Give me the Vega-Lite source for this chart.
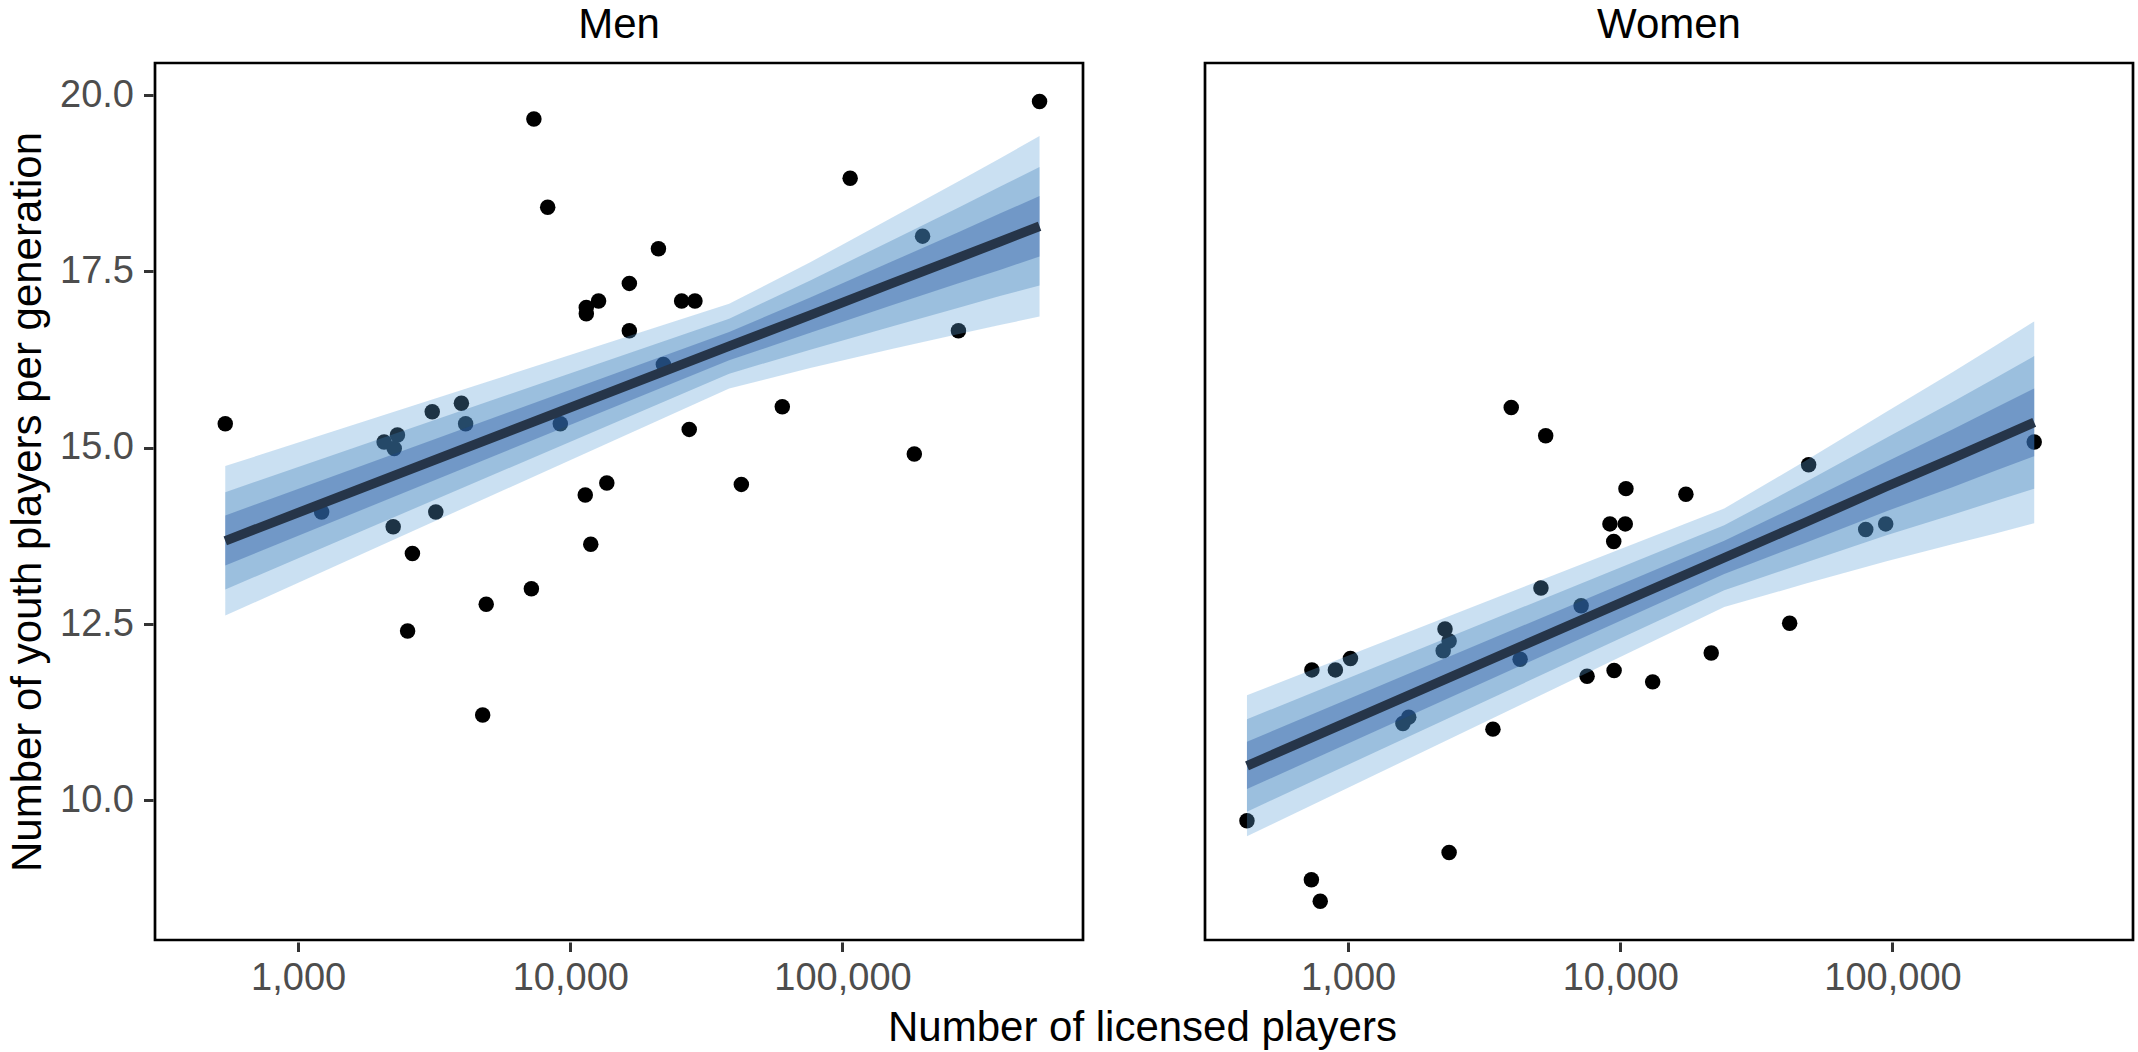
{
  "$schema": "https://vega.github.io/schema/vega-lite/v6.json",
  "background": "white",
  "padding": {"left": 6, "top": 4, "right": 0, "bottom": 2},
  "title": {
    "text": "Number of licensed players",
    "orient": "bottom",
    "anchor": "middle",
    "frame": "bounds",
    "dx": 72,
    "fontSize": 42,
    "fontWeight": "normal",
    "color": "black",
    "offset": 10
  },
  "data": {
    "values": [
      {"sex": "Men", "kind": "point", "players": 540, "youth": 15.34},
      {"sex": "Men", "kind": "point", "players": 7350, "youth": 19.66},
      {"sex": "Men", "kind": "point", "players": 8260, "youth": 18.41},
      {"sex": "Men", "kind": "point", "players": 12700, "youth": 17.08},
      {"sex": "Men", "kind": "point", "players": 11450, "youth": 16.99},
      {"sex": "Men", "kind": "point", "players": 11450, "youth": 16.9},
      {"sex": "Men", "kind": "point", "players": 3110, "youth": 15.51},
      {"sex": "Men", "kind": "point", "players": 3980, "youth": 15.63},
      {"sex": "Men", "kind": "point", "players": 4125, "youth": 15.34},
      {"sex": "Men", "kind": "point", "players": 9190, "youth": 15.34},
      {"sex": "Men", "kind": "point", "players": 2070, "youth": 15.08},
      {"sex": "Men", "kind": "point", "players": 2317, "youth": 15.18},
      {"sex": "Men", "kind": "point", "players": 2255, "youth": 14.99},
      {"sex": "Men", "kind": "point", "players": 11350, "youth": 14.33},
      {"sex": "Men", "kind": "point", "players": 13620, "youth": 14.5},
      {"sex": "Men", "kind": "point", "players": 1220, "youth": 14.09},
      {"sex": "Men", "kind": "point", "players": 2235, "youth": 13.88},
      {"sex": "Men", "kind": "point", "players": 3205, "youth": 14.09},
      {"sex": "Men", "kind": "point", "players": 2630, "youth": 13.5},
      {"sex": "Men", "kind": "point", "players": 2525, "youth": 12.4},
      {"sex": "Men", "kind": "point", "players": 4910, "youth": 12.78},
      {"sex": "Men", "kind": "point", "players": 7195, "youth": 13.0},
      {"sex": "Men", "kind": "point", "players": 4765, "youth": 11.21},
      {"sex": "Men", "kind": "point", "players": 11890, "youth": 13.63},
      {"sex": "Men", "kind": "point", "players": 42500, "youth": 14.48},
      {"sex": "Men", "kind": "point", "players": 529700, "youth": 19.91},
      {"sex": "Men", "kind": "point", "players": 106700, "youth": 18.82},
      {"sex": "Men", "kind": "point", "players": 196900, "youth": 18.0},
      {"sex": "Men", "kind": "point", "players": 266700, "youth": 16.66},
      {"sex": "Men", "kind": "point", "players": 183600, "youth": 14.91},
      {"sex": "Men", "kind": "point", "players": 60100, "youth": 15.58},
      {"sex": "Men", "kind": "point", "players": 27350, "youth": 15.26},
      {"sex": "Men", "kind": "point", "players": 21080, "youth": 17.82},
      {"sex": "Men", "kind": "point", "players": 16480, "youth": 17.33},
      {"sex": "Men", "kind": "point", "players": 25650, "youth": 17.08},
      {"sex": "Men", "kind": "point", "players": 28710, "youth": 17.08},
      {"sex": "Men", "kind": "point", "players": 16480, "youth": 16.66},
      {"sex": "Men", "kind": "point", "players": 21980, "youth": 16.18},
      {"sex": "Women", "kind": "point", "players": 425, "youth": 9.71},
      {"sex": "Women", "kind": "point", "players": 733, "youth": 8.875},
      {"sex": "Women", "kind": "point", "players": 790, "youth": 8.57},
      {"sex": "Women", "kind": "point", "players": 736, "youth": 11.85},
      {"sex": "Women", "kind": "point", "players": 898, "youth": 11.85},
      {"sex": "Women", "kind": "point", "players": 1020, "youth": 12.01},
      {"sex": "Women", "kind": "point", "players": 1670, "youth": 11.18},
      {"sex": "Women", "kind": "point", "players": 1590, "youth": 11.09},
      {"sex": "Women", "kind": "point", "players": 2270, "youth": 12.43},
      {"sex": "Women", "kind": "point", "players": 2350, "youth": 12.26},
      {"sex": "Women", "kind": "point", "players": 2235, "youth": 12.12},
      {"sex": "Women", "kind": "point", "players": 2350, "youth": 9.26},
      {"sex": "Women", "kind": "point", "players": 3405, "youth": 11.01},
      {"sex": "Women", "kind": "point", "players": 3975, "youth": 15.57},
      {"sex": "Women", "kind": "point", "players": 4285, "youth": 12.0},
      {"sex": "Women", "kind": "point", "players": 5110, "youth": 13.01},
      {"sex": "Women", "kind": "point", "players": 5320, "youth": 15.17},
      {"sex": "Women", "kind": "point", "players": 7180, "youth": 12.76},
      {"sex": "Women", "kind": "point", "players": 7550, "youth": 11.76},
      {"sex": "Women", "kind": "point", "players": 9160, "youth": 13.92},
      {"sex": "Women", "kind": "point", "players": 9460, "youth": 13.67},
      {"sex": "Women", "kind": "point", "players": 9490, "youth": 11.84},
      {"sex": "Women", "kind": "point", "players": 10430, "youth": 13.92},
      {"sex": "Women", "kind": "point", "players": 10490, "youth": 14.42},
      {"sex": "Women", "kind": "point", "players": 13150, "youth": 11.68},
      {"sex": "Women", "kind": "point", "players": 17420, "youth": 14.34},
      {"sex": "Women", "kind": "point", "players": 49200, "youth": 14.76},
      {"sex": "Women", "kind": "point", "players": 79750, "youth": 13.84},
      {"sex": "Women", "kind": "point", "players": 94400, "youth": 13.92},
      {"sex": "Women", "kind": "point", "players": 41900, "youth": 12.51},
      {"sex": "Women", "kind": "point", "players": 21580, "youth": 12.09},
      {"sex": "Women", "kind": "point", "players": 331700, "youth": 15.08},

      {"sex": "Men", "kind": "band", "players": 540, "mid": 13.68, "lo95": 12.62, "hi95": 14.74, "lo80": 12.99, "hi80": 14.37, "lo50": 13.33, "hi50": 14.04},
      {"sex": "Men", "kind": "band", "players": 38340, "mid": 16.44, "lo95": 15.84, "hi95": 17.04, "lo80": 16.05, "hi80": 16.83, "lo50": 16.24, "hi50": 16.64},
      {"sex": "Men", "kind": "band", "players": 76130, "mid": 16.88, "lo95": 16.13, "hi95": 17.63, "lo80": 16.39, "hi80": 17.37, "lo50": 16.63, "hi50": 17.13},
      {"sex": "Men", "kind": "band", "players": 151720, "mid": 17.33, "lo95": 16.4, "hi95": 18.26, "lo80": 16.72, "hi80": 17.94, "lo50": 17.02, "hi50": 17.64},
      {"sex": "Men", "kind": "band", "players": 265110, "mid": 17.69, "lo95": 16.61, "hi95": 18.77, "lo80": 16.98, "hi80": 18.4, "lo50": 17.33, "hi50": 18.05},
      {"sex": "Men", "kind": "band", "players": 378490, "mid": 17.92, "lo95": 16.74, "hi95": 19.1, "lo80": 17.15, "hi80": 18.7, "lo50": 17.52, "hi50": 18.32},
      {"sex": "Men", "kind": "band", "players": 529700, "mid": 18.14, "lo95": 16.86, "hi95": 19.42, "lo80": 17.3, "hi80": 18.98, "lo50": 17.71, "hi50": 18.57},
      {"sex": "Women", "kind": "band", "players": 425, "mid": 10.49, "lo95": 9.49, "hi95": 11.49, "lo80": 9.84, "hi80": 11.15, "lo50": 10.16, "hi50": 10.83},
      {"sex": "Women", "kind": "band", "players": 24090, "mid": 13.44, "lo95": 12.74, "hi95": 14.14, "lo80": 12.98, "hi80": 13.9, "lo50": 13.21, "hi50": 13.68},
      {"sex": "Women", "kind": "band", "players": 47750, "mid": 13.94, "lo95": 13.07, "hi95": 14.81, "lo80": 13.37, "hi80": 14.51, "lo50": 13.65, "hi50": 14.23},
      {"sex": "Women", "kind": "band", "players": 95080, "mid": 14.45, "lo95": 13.39, "hi95": 15.51, "lo80": 13.76, "hi80": 15.14, "lo50": 14.1, "hi50": 14.8},
      {"sex": "Women", "kind": "band", "players": 166060, "mid": 14.85, "lo95": 13.63, "hi95": 16.07, "lo80": 14.05, "hi80": 15.65, "lo50": 14.44, "hi50": 15.26},
      {"sex": "Women", "kind": "band", "players": 237050, "mid": 15.11, "lo95": 13.78, "hi95": 16.44, "lo80": 14.24, "hi80": 15.98, "lo50": 14.67, "hi50": 15.56},
      {"sex": "Women", "kind": "band", "players": 331700, "mid": 15.36, "lo95": 13.93, "hi95": 16.79, "lo80": 14.42, "hi80": 16.3, "lo50": 14.88, "hi50": 15.84}
    ]
  },
  "facet": {
    "column": {
      "field": "sex",
      "type": "nominal",
      "sort": ["Men", "Women"],
      "header": {
        "title": null,
        "labelFontSize": 42,
        "labelColor": "black",
        "labelPadding": 14
      }
    }
  },
  "spacing": 118,
  "spec": {
    "width": 928,
    "height": 877,
    "encoding": {
      "x": {
        "field": "players",
        "type": "quantitative",
        "scale": {"type": "log", "domain": [298, 765000], "nice": false},
        "axis": {"values": [1000, 10000, 100000], "format": ",", "title": null}
      }
    },
    "layer": [
      {
        "transform": [{"filter": "datum.kind === 'point'"}],
        "mark": {"type": "circle", "size": 240, "color": "black", "opacity": 1},
        "encoding": {
          "y": {
            "field": "youth",
            "type": "quantitative",
            "title": "Number of youth players per generation",
            "scale": {"domain": [8.02, 20.455], "nice": false, "zero": false},
            "axis": {"values": [10, 12.5, 15, 17.5, 20], "format": ".1f"}
          }
        }
      },
      {
        "transform": [{"filter": "datum.kind === 'band'"}],
        "mark": {"type": "area", "color": "#5aa0d7", "opacity": 0.32},
        "encoding": {
          "y": {"field": "lo95", "type": "quantitative", "title": "Number of youth players per generation"},
          "y2": {"field": "hi95"}
        }
      },
      {
        "transform": [{"filter": "datum.kind === 'band'"}],
        "mark": {"type": "area", "color": "#3779b4", "opacity": 0.32},
        "encoding": {
          "y": {"field": "lo80", "type": "quantitative", "title": "Number of youth players per generation"},
          "y2": {"field": "hi80"}
        }
      },
      {
        "transform": [{"filter": "datum.kind === 'band'"}],
        "mark": {"type": "area", "color": "#1a4897", "opacity": 0.32},
        "encoding": {
          "y": {"field": "lo50", "type": "quantitative", "title": "Number of youth players per generation"},
          "y2": {"field": "hi50"}
        }
      },
      {
        "transform": [{"filter": "datum.kind === 'band'"}],
        "mark": {"type": "line", "color": "#263549", "strokeWidth": 9.5, "strokeCap": "butt"},
        "encoding": {
          "y": {"field": "mid", "type": "quantitative", "title": "Number of youth players per generation"}
        }
      }
    ]
  },
  "config": {
    "font": "Liberation Sans",
    "view": {"stroke": "black", "strokeWidth": 2.7},
    "axis": {
      "domain": false,
      "grid": false,
      "ticks": true,
      "tickColor": "#333333",
      "tickWidth": 3,
      "tickSize": 9.5,
      "labelFontSize": 38,
      "labelColor": "#4d4d4d",
      "labelPadding": 10,
      "titleFontSize": 42,
      "titleFontWeight": "normal",
      "titleColor": "black",
      "titlePadding": 10
    },
    "axisX": {"labelPadding": 8}
  }
}
